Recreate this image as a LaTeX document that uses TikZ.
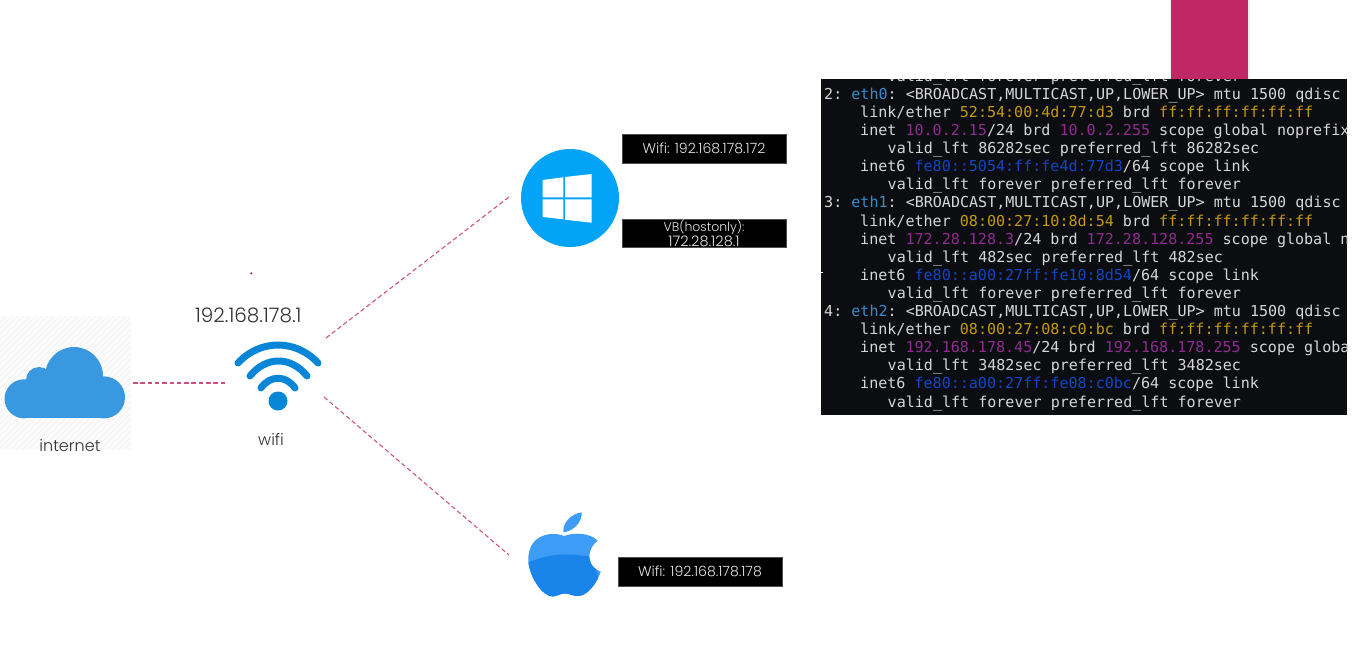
\documentclass[tikz,border=0pt]{standalone}
\usepackage{fontspec}
\setmainfont{Poppins Light}
\newfontfamily\termfont{DejaVu Sans Mono}
\definecolor{pinkbar}{HTML}{BF2865}
\definecolor{dashpink}{HTML}{CC4F7C}
\definecolor{termbg}{HTML}{0C0D10}
\definecolor{termfg}{HTML}{D6D6D6}
\definecolor{tEth}{HTML}{3A8BC8}
\definecolor{tMac}{HTML}{C49A0A}
\definecolor{tIp}{HTML}{8E2C90}
\definecolor{tSix}{HTML}{1246C4}
\definecolor{cloudblue}{HTML}{3A98E0}
\definecolor{wifiblue}{HTML}{0786D8}
\definecolor{winblue}{HTML}{03A4F8}
\definecolor{appletop}{HTML}{3D9CF5}
\definecolor{applelow}{HTML}{1A84EA}
\definecolor{labeltext}{HTML}{333333}
\newcommand{\cE}[1]{\textcolor{tEth}{#1}}
\newcommand{\cM}[1]{\textcolor{tMac}{#1}}
\newcommand{\cI}[1]{\textcolor{tIp}{#1}}
\newcommand{\cS}[1]{\textcolor{tSix}{#1}}
\newcommand{\fsz}[2]{\fontsize{#1}{#2}\selectfont}
\tikzset{
  termline/.style={anchor=base west,inner sep=0pt,text=termfg,font=\termfont\frenchspacing\fontsize{15.05}{18}\selectfont},
  blackbox/.style={fill=black,draw=black!70,line width=0.4pt,text=white!90!black,minimum width=164pt,minimum height=28.5pt,inner sep=0pt,align=center,font=\fontsize{14.1}{15}\selectfont},
  plainlabel/.style={text=labeltext,inner sep=0pt,font=\fontsize{16}{19}\selectfont},
  link/.style={draw=dashpink,line width=1.05pt,dash pattern=on 4.5pt off 2.8pt},
  wave/.style={draw=wifiblue,line width=7pt,line cap=round}
}
\begin{document}
\begin{tikzpicture}[x=1pt,y=-1pt]
\useasboundingbox (0,0) rectangle (1365,667);
\fill[white] (0,0) rectangle (1365,667);

% pink bar
\fill[black!6] (1169.5,0) rectangle (1249.5,79);
\fill[pinkbar] (1171,0) rectangle (1248,79);

% cloud backdrop
\begin{scope}
\clip (0,316) rectangle (131,450);
\fill[black!1.5] (0,316) rectangle (131,450);
\foreach \k in {0,6,...,270}{
  \draw[black!5,line width=0.5pt] (\k-140,450) -- (\k-6,316);
}
\end{scope}

% cloud
\fill[cloudblue] (24,398.8) circle (19.5);
\fill[cloudblue] (39,380) circle (13);
\fill[cloudblue] (74,376) circle (29);
\fill[cloudblue] (104,397.4) circle (21);
\fill[cloudblue] (24,385) rectangle (104,418.4);
\coordinate (cloudR) at (133,383);
\node[plainlabel] (internet) at (70,446) {internet};

% wifi
\fill[wifiblue] (278,401) circle (9.5);
\draw[wave] (238,363) .. controls (260,339) and (296,339) .. (318,363);
\draw[wave] (250,376) .. controls (266,356) and (291,356) .. (307,376);
\draw[wave] (261,388) .. controls (270,375) and (286,375) .. (295,388);
\coordinate (wifiL) at (226,383);
\coordinate (wifiUp) at (326,338);
\coordinate (wifiDown) at (324,397);
\node[plainlabel] (wifilabel) at (271,439) {wifi};
\node[plainlabel,font=\fsz{20}{23}] (gateway) at (248.3,315) {192.168.178.1};
\fill[red!70!black] (251.3,273.3) circle (1.1);

% windows
\fill[winblue] (570,198) circle (49);
\fill[white] (542.7,180) -- (563.3,177.3) -- (563.3,197.3) -- (542.7,197.3) -- cycle;
\fill[white] (565,177) -- (591.7,174) -- (591.7,197.3) -- (565,197.3) -- cycle;
\fill[white] (542.7,199.3) -- (563.3,199.3) -- (563.3,219.3) -- (542.7,217) -- cycle;
\fill[white] (565,199.3) -- (591.7,199.3) -- (591.7,222.7) -- (565,219.7) -- cycle;
\coordinate (winL) at (509,197);

% apple
\fill[appletop] (563.3,532.3) .. controls (563,522) and (571,514) .. (581.7,512.3) .. controls (582,522) and (574,531) .. (563.3,532.3) -- cycle;
\fill[appletop] (597.7,540.7) .. controls (590,533) and (575,532) .. (564,536) .. controls (552,531) and (528,534) .. (528.3,560) .. controls (528.5,575) and (542,597) .. (553,596.5) .. controls (558,596) and (560,593.5) .. (565,593.5) .. controls (570,593.5) and (573,596.5) .. (579,596) .. controls (588,595) and (597,583) .. (600.7,571.7) .. controls (592,568) and (589,562) .. (589.3,556) .. controls (589.5,550) and (593,544) .. (597.7,540.7) -- cycle;
\begin{scope}
\clip (528,563) .. controls (548,553) and (570,553) .. (592,557) -- (605,600) -- (525,600) -- cycle;
\fill[applelow] (597.7,540.7) .. controls (590,533) and (575,532) .. (564,536) .. controls (552,531) and (528,534) .. (528.3,560) .. controls (528.5,575) and (542,597) .. (553,596.5) .. controls (558,596) and (560,593.5) .. (565,593.5) .. controls (570,593.5) and (573,596.5) .. (579,596) .. controls (588,595) and (597,583) .. (600.7,571.7) .. controls (592,568) and (589,562) .. (589.3,556) .. controls (589.5,550) and (593,544) .. (597.7,540.7) -- cycle;
\end{scope}
\coordinate (appleL) at (509,555);

% connectors
\draw[link] (cloudR) -- (wifiL);
\draw[link] (wifiUp) -- (winL);
\draw[link] (wifiDown) -- (appleL);

% address labels
\node[blackbox] (winwifi) at (704,148.5) {Wifi: 192.168.178.172};
\node[blackbox] (winvb) at (704,233.4) {\fsz{12.5}{15}VB(hostonly):\\\fsz{14.5}{15}172.28.128.1};
\node[blackbox] (applewifi) at (700,571.8) {Wifi: 192.168.178.178};

% terminal
\fill[termbg] (821,79) rectangle (1347,415);
\fill[white] (820.5,271.5) rectangle (822.5,273);
\begin{scope}
\clip (821,79) rectangle (1347,415);
\node[termline] (t0) at (887.5,81.3) {valid\_lft forever preferred\_lft forever};
\node[termline] (t1) at (824,99.3) {2: \cE{eth0}: <BROADCAST,MULTICAST,UP,LOWER\_UP> mtu 1500 qdisc};
\node[termline] (t2) at (860,117.4) {link/ether \cM{52:54:00:4d:77:d3} brd \cM{ff:ff:ff:ff:ff:ff}};
\node[termline] (t3) at (860,135.5) {inet \cI{10.0.2.15}/24 brd \cI{10.0.2.255} scope global noprefix};
\node[termline] (t4) at (887.5,153.6) {valid\_lft 86282sec preferred\_lft 86282sec};
\node[termline] (t5) at (860,171.7) {inet6 \cS{fe80::5054:ff:fe4d:77d3}/64 scope link};
\node[termline] (t6) at (887.5,189.8) {valid\_lft forever preferred\_lft forever};
\node[termline] (t7) at (824,207.9) {3: \cE{eth1}: <BROADCAST,MULTICAST,UP,LOWER\_UP> mtu 1500 qdisc};
\node[termline] (t8) at (860,226) {link/ether \cM{08:00:27:10:8d:54} brd \cM{ff:ff:ff:ff:ff:ff}};
\node[termline] (t9) at (860,244.1) {inet \cI{172.28.128.3}/24 brd \cI{172.28.128.255} scope global n};
\node[termline] (t10) at (887.5,262.2) {valid\_lft 482sec preferred\_lft 482sec};
\node[termline] (t11) at (860,280.3) {inet6 \cS{fe80::a00:27ff:fe10:8d54}/64 scope link};
\node[termline] (t12) at (887.5,298.4) {valid\_lft forever preferred\_lft forever};
\node[termline] (t13) at (824,316.5) {4: \cE{eth2}: <BROADCAST,MULTICAST,UP,LOWER\_UP> mtu 1500 qdisc};
\node[termline] (t14) at (860,334.6) {link/ether \cM{08:00:27:08:c0:bc} brd \cM{ff:ff:ff:ff:ff:ff}};
\node[termline] (t15) at (860,352.7) {inet \cI{192.168.178.45}/24 brd \cI{192.168.178.255} scope globa};
\node[termline] (t16) at (887.5,370.8) {valid\_lft 3482sec preferred\_lft 3482sec};
\node[termline] (t17) at (860,388.9) {inet6 \cS{fe80::a00:27ff:fe08:c0bc}/64 scope link};
\node[termline] (t18) at (887.5,407) {valid\_lft forever preferred\_lft forever};
\end{scope}
\end{tikzpicture}
\end{document}
